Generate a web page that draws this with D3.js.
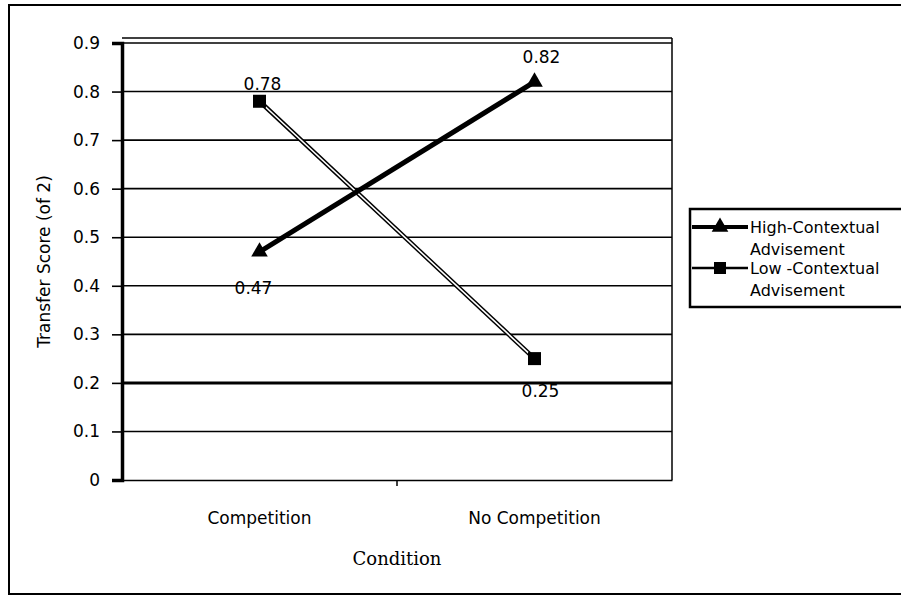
<!DOCTYPE html>
<html>
<head>
<meta charset="utf-8">
<script src="https://cdn.jsdelivr.net/npm/d3@7"></script>
<style>
  body { margin: 0; background: #fff; }
  svg { display: block; }
</style>
</head>
<body>
<script>
var categories = ["Competition", "No Competition"];
var seriesNames = ["High-Contextual Advisement", "Low -Contextual Advisement"];
var highValues = [0.47, 0.82];
var lowValues = [0.78, 0.25];
var yTicks = [0, 0.1, 0.2, 0.3, 0.4, 0.5, 0.6, 0.7, 0.8, 0.9];
var yTickLabels = ["0", "0.1", "0.2", "0.3", "0.4", "0.5", "0.6", "0.7", "0.8", "0.9"];

var W = 901, H = 597;
var pLeft = 122, pRight = 672, pTop = 43, pBottom = 480;
var sans = "DejaVu Sans, Verdana, sans-serif";

var svg = d3.select("body").append("svg")
  .attr("width", W).attr("height", H);

// outer frame
svg.append("rect").attr("x", 9).attr("y", 5).attr("width", 905).attr("height", 589)
  .attr("fill", "none").attr("stroke", "#000").attr("stroke-width", 2);

var x = d3.scaleBand().domain(categories).range([pLeft, pRight]);
var y = d3.scaleLinear().domain([0, 0.9]).range([pBottom, pTop]);

// plot area top / right border
svg.append("line").attr("x1", pRight).attr("x2", pRight)
  .attr("y1", y(0.9) - 5).attr("y2", y(0))
  .attr("stroke", "#000").attr("stroke-width", 1.5);
svg.append("line").attr("x1", pLeft).attr("x2", pRight)
  .attr("y1", y(0.9) - 5).attr("y2", y(0.9) - 5)
  .attr("stroke", "#000").attr("stroke-width", 1.5);

// gridlines
svg.selectAll("line.grid").data(yTicks.filter(function (d) { return d > 0; }))
  .enter().append("line").attr("class", "grid")
  .attr("x1", pLeft).attr("x2", pRight)
  .attr("y1", function (d) { return y(d); }).attr("y2", function (d) { return y(d); })
  .attr("stroke", "#000")
  .attr("stroke-width", function (d) { return d === 0.2 ? 3 : 1.6; });

// y axis
var yAxis = d3.axisLeft(y).tickValues(yTicks).tickSize(10).tickPadding(12)
  .tickFormat(function (d, i) { return yTickLabels[i]; });
var gy = svg.append("g").attr("transform", "translate(" + pLeft + ",0)").call(yAxis);
gy.select(".domain").attr("stroke-width", 3.5);
gy.selectAll(".tick line").attr("stroke-width", 1.6);
gy.selectAll("text").attr("font-family", sans)
  .attr("font-size", 17).attr("fill", "#000");

// x axis
var xAxis = d3.axisBottom(x).tickSize(0).tickPadding(32);
var gx = svg.append("g").attr("transform", "translate(0," + pBottom + ")").call(xAxis);
gx.select(".domain").attr("stroke-width", 1.6);
gx.selectAll("text").attr("font-family", sans)
  .attr("font-size", 17).attr("fill", "#000");
// category divider tick
svg.append("line").attr("x1", pLeft + x.step()).attr("x2", pLeft + x.step())
  .attr("y1", pBottom).attr("y2", pBottom + 6).attr("stroke", "#000").attr("stroke-width", 1.5);

// axis titles
svg.append("text").attr("x", (pLeft + pRight) / 2).attr("y", 565)
  .attr("text-anchor", "middle").attr("font-family", "DejaVu Serif, Liberation Serif, serif")
  .attr("font-size", 18).text("Condition");
svg.append("text").attr("transform", "translate(50," + (pTop + pBottom) / 2 + ") rotate(-90)")
  .attr("text-anchor", "middle").attr("font-family", sans)
  .attr("font-size", 17).text("Transfer Score (of 2)");

var cx = function (i) { return x(categories[i]) + x.bandwidth() / 2; };
var line = d3.line().x(function (d, i) { return cx(i); }).y(function (d) { return y(d); });

// low series: double (outlined) line
svg.append("path").datum(lowValues).attr("d", line)
  .attr("fill", "none").attr("stroke", "#000").attr("stroke-width", 4.5);
svg.append("path").datum(lowValues).attr("d", line)
  .attr("fill", "none").attr("stroke", "#fff").attr("stroke-width", 1.6);
// high series: thick line
svg.append("path").datum(highValues).attr("d", line)
  .attr("fill", "none").attr("stroke", "#000").attr("stroke-width", 5);

var tri = d3.symbol().type(d3.symbolTriangle).size(120);
svg.selectAll("path.hi").data(highValues).enter().append("path").attr("class", "hi")
  .attr("d", tri)
  .attr("transform", function (d, i) { return "translate(" + cx(i) + "," + y(d) + ")"; })
  .attr("fill", "#000");
svg.selectAll("rect.lo").data(lowValues).enter().append("rect").attr("class", "lo")
  .attr("x", function (d, i) { return cx(i) - 6.5; })
  .attr("y", function (d) { return y(d) - 6.5; })
  .attr("width", 13).attr("height", 13).attr("fill", "#000");

// data labels
svg.selectAll("text.hl").data(highValues).enter().append("text").attr("class", "hl")
  .attr("x", function (d, i) { return cx(i) + (i === 0 ? -6 : 7); })
  .attr("y", function (d, i) { return i === 0 ? y(d) + 42 : y(d) - 19; })
  .attr("text-anchor", "middle").attr("font-family", sans).attr("font-size", 17)
  .text(function (d) { return d; });
svg.selectAll("text.ll").data(lowValues).enter().append("text").attr("class", "ll")
  .attr("x", function (d, i) { return cx(i) + (i === 0 ? 3 : 6); })
  .attr("y", function (d, i) { return i === 0 ? y(d) - 11 : y(d) + 38; })
  .attr("text-anchor", "middle").attr("font-family", sans).attr("font-size", 17)
  .text(function (d) { return d; });

// legend
var lg = svg.append("g").attr("transform", "translate(690,209)");
lg.append("rect").attr("x", 0).attr("y", 0).attr("width", 230).attr("height", 98)
  .attr("fill", "#fff").attr("stroke", "#000").attr("stroke-width", 2.5);
var legRows = [
  { name: ["High-Contextual", "Advisement"], y: 18 },
  { name: ["Low -Contextual", "Advisement"], y: 59 }
];
lg.append("line").attr("x1", 2).attr("x2", 58).attr("y1", legRows[0].y).attr("y2", legRows[0].y)
  .attr("stroke", "#000").attr("stroke-width", 4);
lg.append("path").attr("d", tri).attr("transform", "translate(30," + legRows[0].y + ")");
lg.append("line").attr("x1", 2).attr("x2", 58).attr("y1", legRows[1].y).attr("y2", legRows[1].y)
  .attr("stroke", "#000").attr("stroke-width", 2.5);
lg.append("rect").attr("x", 24).attr("y", legRows[1].y - 6).attr("width", 12).attr("height", 12);
legRows.forEach(function (r) {
  r.name.forEach(function (t, j) {
    lg.append("text").attr("x", 60).attr("y", r.y + 6 + j * 22)
      .attr("font-family", sans).attr("font-size", 16).text(t);
  });
});
</script>
</body>
</html>
